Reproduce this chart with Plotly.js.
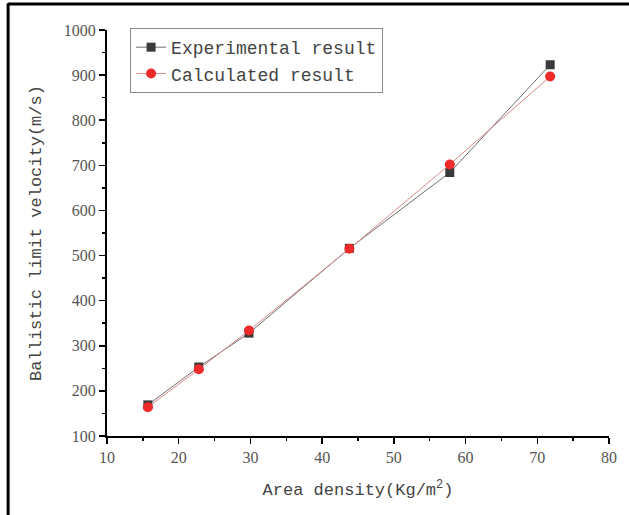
<!DOCTYPE html>
<html>
<head>
<meta charset="utf-8">
<script src="https://cdn.plot.ly/plotly-3.0.1.min.js"></script>
<style>
html,body{margin:0;padding:0;background:#fff;}
#chart{width:629px;height:515px;}
</style>
</head>
<body>
<div id="chart"></div>
<script>
// Data
const areaDensity = [15.7, 22.8, 29.8, 43.8, 57.8, 71.8];
const experimental = [169, 253, 328, 516, 684, 923];
const calculated = [164, 248, 334, 515, 702, 897];
const seriesNames = ["Experimental result", "Calculated result"];
const xTickVals = [10, 20, 30, 40, 50, 60, 70, 80];
const yTickVals = [100, 200, 300, 400, 500, 600, 700, 800, 900, 1000];

const monoFont = "Liberation Mono, DejaVu Sans Mono, monospace";
const serifFont = "Liberation Serif, DejaVu Serif, serif";

const traces = [
  {
    x: areaDensity, y: experimental, name: seriesNames[0],
    mode: "lines+markers", type: "scatter",
    line: {color: "#6e6e6e", width: 1},
    marker: {symbol: "square", size: 9, color: "#3a3a3a"}
  },
  {
    x: areaDensity, y: calculated, name: seriesNames[1],
    mode: "lines+markers", type: "scatter",
    line: {color: "#d98a8a", width: 1},
    marker: {symbol: "circle", size: 10, color: "#ee2a2a"}
  }
];

const axisCommon = {
  showgrid: false, zeroline: false,
  showline: true, linecolor: "#000", linewidth: 2,
  ticks: "outside", ticklen: 6, tickwidth: 1.5, tickcolor: "#000",
  tickfont: {family: serifFont, size: 16, color: "#555"},
  mirror: false
};

const layout = {
  width: 629, height: 515,
  margin: {l: 107, r: 20, t: 30, b: 79},
  paper_bgcolor: "#fff", plot_bgcolor: "#fff",
  showlegend: true,
  legend: {
    x: 0.046, y: 1.005, xanchor: "left", yanchor: "top",
    bgcolor: "#fff", bordercolor: "#888", borderwidth: 1,
    font: {family: monoFont, size: 18, color: "#444"},
    tracegroupgap: 0
  },
  xaxis: Object.assign({}, axisCommon, {
    range: [10, 80], tickvals: xTickVals,
    minor: {ticks: "outside", ticklen: 3, dtick: 5, tickcolor: "#000", tickwidth: 1.5},
    title: {text: "Area density(Kg/m<sup>2</sup>)", font: {family: monoFont, size: 17, color: "#444"}, standoff: 18}
  }),
  yaxis: Object.assign({}, axisCommon, {
    range: [100, 1000], tickvals: yTickVals,
    minor: {ticks: "outside", ticklen: 3, dtick: 50, tickcolor: "#000", tickwidth: 1.5},
    title: {text: "Ballistic limit velocity(m/s)", font: {family: monoFont, size: 17, color: "#444"}, standoff: 18}
  }),
  shapes: [
    {type: "line", xref: "paper", yref: "paper", x0: -0.197, x1: -0.197, y0: -0.2, y1: 1.066, line: {color: "#000", width: 3}},
    {type: "line", xref: "paper", yref: "paper", x0: -0.197, x1: 1.05, y0: 1.064, y1: 1.064, line: {color: "#000", width: 3}}
  ]
};

Plotly.newPlot("chart", traces, layout, {displayModeBar: false, staticPlot: true});
</script>
</body>
</html>
